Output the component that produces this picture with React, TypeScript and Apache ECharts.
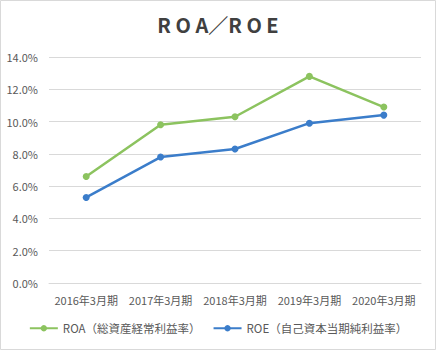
import React, { useEffect, useRef } from "react";
import * as echarts from "echarts";

const categories = ["2016年3月期", "2017年3月期", "2018年3月期", "2019年3月期", "2020年3月期"];
const roaValues = [6.6, 9.8, 10.3, 12.8, 10.9];
const roeValues = [5.3, 7.8, 8.3, 9.9, 10.4];
const roaName = "ROA（総資産経常利益率）";
const roeName = "ROE（自己資本当期純利益率）";
const titleText = "R O A／R O E";

const GREEN = "#8CC35F";
const BLUE = "#3B7DCA";
const FONT = "'Noto Sans CJK JP', 'Noto Sans', sans-serif";

export default function App() {
  const ref = useRef<HTMLDivElement>(null);
  useEffect(() => {
    if (!ref.current) return;
    const chart = echarts.init(ref.current, null, { renderer: "svg" });
    chart.setOption({
      animation: false,
      backgroundColor: "#ffffff",
      textStyle: { fontFamily: FONT },
      title: {
        text: titleText,
        left: "center",
        top: 9,
        textStyle: { fontSize: 20, fontWeight: "bold", color: "#404040", fontFamily: FONT },
      },
      graphic: [
        {
          type: "rect",
          shape: { x: 0.5, y: 0.5, width: 435, height: 349 },
          style: { fill: "none", stroke: "#d9d9d9", lineWidth: 1 },
          silent: true,
        },
      ],
      legend: {
        bottom: 12,
        left: "center",
        itemWidth: 28,
        itemHeight: 8,
        itemGap: 12,
        textStyle: { fontSize: 11.5, color: "#595959", fontFamily: FONT },
        data: [roaName, roeName],
      },
      grid: { left: 49, right: 15, top: 57, bottom: 68 },
      xAxis: {
        type: "category",
        data: categories,
        axisLine: { show: true, lineStyle: { color: "#d9d9d9" } },
        axisTick: { show: false },
        axisLabel: { fontSize: 11, color: "#595959", margin: 11, interval: 0, hideOverlap: false, fontFamily: FONT },
      },
      yAxis: {
        type: "value",
        min: 0,
        max: 14,
        interval: 2,
        axisLine: { show: false },
        axisTick: { show: false },
        splitLine: { lineStyle: { color: "#d9d9d9" } },
        axisLabel: {
          fontSize: 11,
          color: "#595959",
          margin: 11,
          fontFamily: FONT,
          formatter: (v: number) => v.toFixed(1) + "%",
        },
      },
      series: [
        {
          name: roaName,
          type: "line",
          data: roaValues,
          symbol: "circle",
          symbolSize: 7,
          lineStyle: { width: 2.5, color: GREEN },
          itemStyle: { color: GREEN },
        },
        {
          name: roeName,
          type: "line",
          data: roeValues,
          symbol: "circle",
          symbolSize: 7,
          lineStyle: { width: 2.5, color: BLUE },
          itemStyle: { color: BLUE },
        },
      ],
    });
    return () => chart.dispose();
  }, []);
  return (
    <div
      ref={ref}
      style={{ position: "fixed", left: 0, top: 0, width: 436, height: 351 }}
    />
  );
}
